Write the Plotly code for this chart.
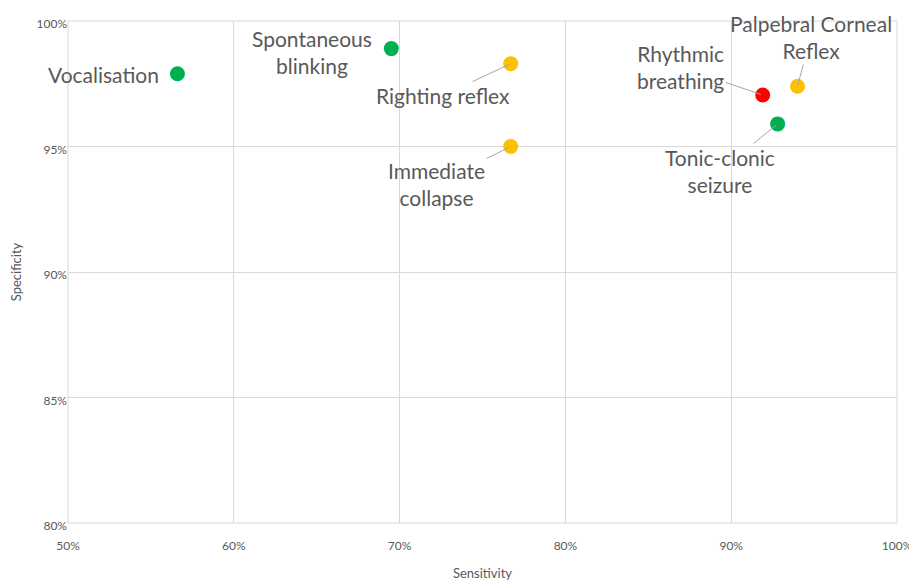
import plotly.graph_objects as go

names = ["Vocalisation", "Spontaneous<br>blinking", "Righting reflex", "Immediate<br>collapse",
         "Rhythmic<br>breathing", "Palpebral Corneal<br>Reflex", "Tonic-clonic<br>seizure"]
sensitivity = [0.566, 0.695, 0.767, 0.767, 0.919, 0.940, 0.928]
specificity = [0.979, 0.989, 0.983, 0.950, 0.9705, 0.974, 0.959]
colors = ["#00B050", "#00B050", "#FFC000", "#FFC000", "#FF0000", "#FFC000", "#00B050"]
# label offsets (pixels) and whether a leader line is drawn
label_dx = [-74, -79, -68, -74, -82, 13, -58]
label_dy = [1, 3, 32, 37, -28, -49, 47]
leader = [False, False, True, True, True, True, True]

fig = go.Figure()
fig.add_trace(go.Scatter(
    x=sensitivity, y=specificity, mode="markers",
    marker=dict(size=15, color=colors, line=dict(width=0)),
    hoverinfo="skip", showlegend=False))

for n, x, y, dx, dy, ld in zip(names, sensitivity, specificity, label_dx, label_dy, leader):
    fig.add_annotation(
        x=x, y=y, text=n, showarrow=True, ax=dx, ay=dy,
        arrowhead=0, arrowwidth=1, arrowcolor="#A6A6A6" if ld else "rgba(0,0,0,0)",
        standoff=2,
        font=dict(family="Lato, Open Sans, sans-serif", size=21, color="#595959"),
        align="center")

fig.update_layout(
    width=917, height=581,
    margin=dict(l=60, r=28, t=13, b=66),
    paper_bgcolor="white", plot_bgcolor="white",
    font=dict(family="Lato, Open Sans, sans-serif", color="#595959"),
    xaxis=dict(range=[0.5, 1.0], tickvals=[0.5, 0.6, 0.7, 0.8, 0.9, 1.0],
               tickformat=".0%", showgrid=True, gridcolor="#D9D9D9", gridwidth=1,
               zeroline=False, showline=False, tickfont=dict(size=12, color="#595959"),
               ticks="", ticklabelstandoff=14, automargin=False,
               title=dict(text="Sensitivity", font=dict(size=13, color="#595959"), standoff=16)),
    yaxis=dict(range=[0.8, 1.0], tickvals=[0.8, 0.85, 0.9, 0.95, 1.0],
               tickformat=".0%", showgrid=True, gridcolor="#D9D9D9", gridwidth=1,
               zeroline=False, showline=False, tickfont=dict(size=12, color="#595959"),
               ticks="", automargin=False, ticklabelshift=3,
               title=dict(text="Specificity", font=dict(size=13, color="#595959"), standoff=11)),
)
fig.add_shape(type="rect", xref="paper", yref="paper", x0=0, y0=0, x1=1, y1=1,
              line=dict(color="#D9D9D9", width=1), layer="below")

fig.write_html("out.html")
